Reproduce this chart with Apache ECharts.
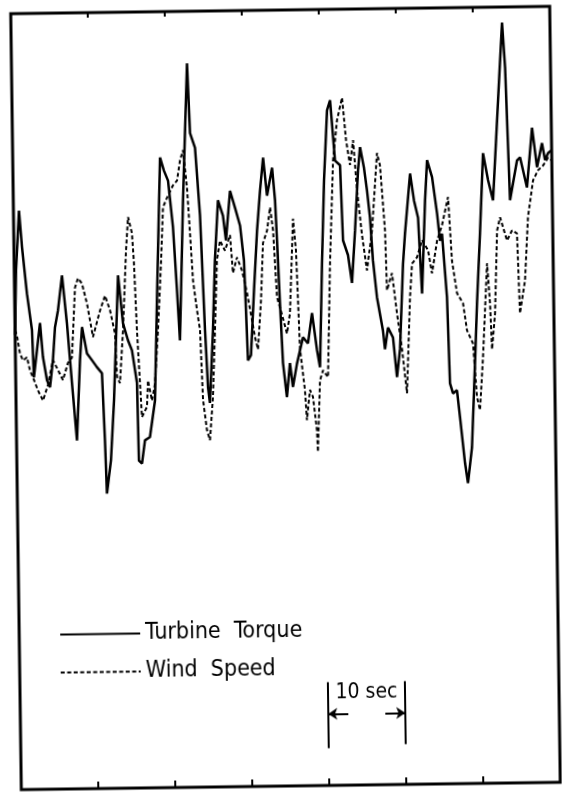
<!DOCTYPE html>
<html><head><meta charset="utf-8">
<script src="https://cdn.jsdelivr.net/npm/echarts@6/dist/echarts.min.js"></script>
<style>
html,body{margin:0;padding:0;background:#fff;overflow:hidden;width:562px;height:793px}
#c{position:absolute;left:0;top:0;width:562px;height:793px;transform:rotate(-0.78deg);transform-origin:285px 398px;}
</style></head><body><div id="c"></div>
<script>
// time in seconds (frame spans 0..70 s, ticks every 10 s); amplitude in relative units (frame 0..100)
const torqueTime = [0, 0.23, 0.72, 1.05, 1.61, 2.20, 2.37, 2.81, 3.25, 3.58,
  4.06, 4.44, 4.87, 5.19, 5.61, 6.19, 6.75, 7.30, 7.85, 8.38,
  8.70, 9.30, 9.94, 10.57, 11.21, 11.48, 11.65, 12.23, 12.73, 13.47,
  14.03, 14.65, 15.15, 15.74, 15.86, 16.25, 16.68, 17.33, 18.05, 18.48,
  19.13, 19.62, 20.13, 20.69, 21.10, 21.40, 22.04, 22.80, 23.07, 23.69,
  24.22, 24.67, 24.96, 25.18, 25.70, 26.08, 26.58, 27.20, 27.55, 28.16,
  28.78, 29.40, 29.85, 30.20, 30.60, 31.10, 31.60, 32.06, 32.51, 32.96,
  33.66, 33.99, 34.18, 34.45, 34.74, 35.19, 35.64, 35.99, 36.55, 37.38,
  38.02, 38.59, 39.18, 39.54, 39.98, 40.39, 40.90, 41.31, 41.85, 42.49,
  42.75, 43.37, 43.84, 44.33, 44.82, 45.12, 45.60, 45.95, 46.29, 46.60,
  47.06, 47.78, 48.01, 48.44, 49.07, 49.52, 49.96, 50.50, 50.81, 51.57,
  52.04, 52.53, 52.92, 53.47, 53.80, 54.42, 55.01, 55.34, 55.61, 56.15,
  56.39, 56.76, 57.28, 57.63, 58.20, 58.55, 59.13, 59.67, 60.04, 60.55,
  61.08, 61.69, 62.30, 63.13, 63.78, 64.10, 64.51, 65.48, 65.88, 66.73,
  67.49, 68.07, 68.76, 69.12, 69.52, 69.92];
const torqueValue = [58.6, 66.9, 74.6, 69.9, 63.9, 59.2, 53.1, 56.6, 60.1, 55.7,
  52.7, 51.8, 55.3, 59.5, 61.7, 66.2, 60.0, 52.3, 44.9, 55.2,
  59.5, 56.1, 55.2, 54.3, 53.5, 44.9, 38.0, 42.3, 50.0, 66.1,
  59.9, 57.7, 56.4, 52.2, 42.2, 41.8, 44.8, 45.2, 49.9, 62.8,
  81.2, 79.5, 78.2, 72.2, 64.1, 57.6, 75.6, 93.3, 84.3, 82.4,
  73.7, 58.9, 51.5, 49.5, 58.8, 67.9, 75.6, 73.6, 70.4, 76.8,
  74.6, 72.3, 67.8, 54.9, 55.6, 63.9, 71.6, 76.8, 81.0, 76.1,
  79.7, 75.5, 70.3, 62.2, 54.5, 50.1, 54.5, 51.4, 54.4, 57.8,
  57.0, 60.9, 56.1, 53.9, 67.3, 78.0, 87.0, 88.3, 80.5, 79.9,
  70.2, 68.3, 64.7, 71.5, 79.2, 82.2, 79.5, 76.6, 73.1, 67.6,
  62.8, 58.5, 56.1, 58.9, 57.6, 52.5, 56.1, 67.1, 71.0, 78.7,
  75.2, 73.0, 63.2, 75.2, 80.4, 78.2, 73.5, 70.0, 70.9, 62.7,
  51.6, 50.3, 50.7, 47.2, 41.3, 38.7, 43.3, 54.1, 61.9, 70.9,
  81.2, 77.7, 75.1, 88.0, 98.0, 92.2, 75.1, 80.2, 80.6, 76.7,
  84.4, 79.3, 82.4, 80.2, 81.1, 81.4];
const windTime = [0, 0.24, 0.60, 0.98, 1.50, 1.87, 2.25, 2.87, 3.51, 4.18,
  4.87, 5.50, 6.13, 6.81, 7.34, 7.86, 8.26, 8.77, 9.39, 10.11,
  11.07, 11.74, 12.37, 12.97, 13.16, 13.53, 14.02, 14.55, 14.87, 15.35,
  15.56, 15.83, 16.13, 16.33, 17.00, 17.17, 17.66, 18.08, 18.56, 19.07,
  19.43, 20.10, 20.77, 21.30, 21.72, 22.13, 22.58, 22.89, 23.20, 23.66,
  24.02, 24.29, 24.75, 25.12, 25.58, 25.96, 26.34, 26.77, 27.40, 28.08,
  28.40, 28.95, 29.58, 30.19, 30.79, 31.15, 31.52, 31.99, 32.35, 32.90,
  33.33, 33.68, 34.08, 34.70, 35.31, 35.73, 36.29, 36.62, 36.97, 37.54,
  37.75, 38.19, 38.57, 39.03, 39.12, 39.51, 39.92, 40.56, 41.02, 41.59,
  42.18, 42.87, 43.32, 43.79, 44.23, 44.66, 45.23, 45.81, 46.53, 47.31,
  47.68, 48.22, 48.37, 49.05, 49.63, 50.22, 50.79, 51.35, 51.67, 52.33,
  53.01, 53.77, 54.25, 54.96, 55.63, 56.46, 56.86, 57.46, 58.22, 58.69,
  59.45, 59.87, 60.24, 60.72, 61.41, 61.73, 61.91, 62.36, 62.77, 63.18,
  64.05, 64.71, 65.35, 65.60, 66.31, 66.81, 67.53, 68.19, 68.85, 69.52, 69.90];
const windValue = [59.2, 58.5, 56.2, 55.3, 55.7, 54.0, 53.1, 51.4, 50.1, 52.1,
  55.3, 54.0, 52.7, 54.9, 55.6, 64.6, 65.8, 65.1, 62.5, 58.2,
  61.6, 63.5, 61.6, 58.6, 53.0, 52.2, 59.0, 69.3, 73.6, 71.5,
  67.6, 59.0, 52.2, 47.8, 49.1, 52.5, 49.9, 52.1, 58.9, 67.6,
  74.8, 76.3, 77.6, 78.2, 80.8, 82.1, 77.3, 71.4, 65.3, 61.5,
  58.9, 49.9, 46.0, 44.7, 50.2, 58.8, 67.9, 70.4, 69.1, 71.1,
  66.2, 68.2, 66.5, 63.6, 60.1, 57.9, 56.3, 62.6, 70.0, 71.6,
  74.6, 71.6, 63.0, 60.7, 58.3, 60.9, 73.1, 69.0, 56.3, 51.0,
  47.1, 51.0, 50.1, 45.8, 43.0, 52.2, 53.5, 52.6, 67.3, 80.5,
  85.7, 88.6, 83.1, 79.9, 83.1, 76.6, 70.8, 66.3, 71.4, 81.4,
  79.8, 71.4, 63.7, 65.9, 60.7, 56.1, 50.4, 62.8, 67.1, 67.9,
  70.1, 68.8, 65.8, 70.0, 72.0, 75.6, 67.4, 63.2, 61.9, 58.4,
  56.7, 49.8, 48.1, 54.9, 67.0, 61.8, 55.9, 60.5, 71.2, 72.9,
  69.9, 71.2, 70.8, 60.5, 64.7, 72.9, 77.6, 78.9, 79.5, 80.5, 80.2];
const seriesNames = ['Turbine Torque', 'Wind Speed'];
const xTicks = [0, 70, 10];          // min, max, interval (s)
const scaleBarTimes = [40, 50];      // "10 sec" marker ends
const scaleBarLevels = [4.8, 13.3];  // vertical extent of marker bars
const scaleArrowLevel = 9.2;
const scaleArrowLen = 2.6;
const scaleLabel = '10 sec';
const scaleLabelLevel = 11.9;

const FONT = "'DejaVu Sans Condensed', 'Liberation Sans Narrow', 'DejaVu Sans', sans-serif";
const zip = (a, b) => a.map((v, i) => [v, b[i]]);

const chart = echarts.init(document.getElementById('c'), null, {renderer: 'canvas'});
const axisBase = {
  type: 'value', min: xTicks[0], max: xTicks[1], interval: xTicks[2],
  axisLabel: {show: false}, splitLine: {show: false},
  axisLine: {show: false}
};
chart.setOption({
  animation: false,
  backgroundColor: '#fff',
  grid: {left: 16, top: 10, right: 7, bottom: 7, show: true, borderColor: '#000', borderWidth: 3, backgroundColor: 'transparent'},
  xAxis: [
    Object.assign({}, axisBase, {position: 'bottom', axisTick: {show: true, inside: true, length: 7, lineStyle: {color: '#000', width: 2}}}),
    Object.assign({}, axisBase, {position: 'top', axisTick: {show: true, inside: true, length: 5, lineStyle: {color: '#000', width: 2}}})
  ],
  yAxis: {type: 'value', min: 0, max: 100, show: false},
  legend: {
    data: seriesNames, orient: 'vertical', left: 56, top: 619, padding: 0,
    itemWidth: 80, itemHeight: 12, itemGap: 13,
    formatter: n => n.replace(' ', '  '),
    itemStyle: {color: 'rgba(0,0,0,0)', borderWidth: 0, opacity: 0},
    lineStyle: {width: 2},
    textStyle: {fontFamily: FONT, fontSize: 23, color: '#000', lineHeight: 25},
    inactiveColor: '#000'
  },
  series: [
    {name: seriesNames[0], type: 'line', data: zip(torqueTime, torqueValue), symbol: 'none',
      lineStyle: {color: '#000', width: 2.5}, itemStyle: {color: '#000'}, z: 3},
    {name: seriesNames[1], type: 'line', data: zip(windTime, windValue), symbol: 'none',
      lineStyle: {color: '#000', width: 2, type: [4, 2.5]}, itemStyle: {color: '#000'}, z: 2},
    {name: 'scale', type: 'line', data: [], symbol: 'none',
      markLine: {
        silent: true, animation: false, symbol: ['none', 'none'], symbolSize: 9,
        lineStyle: {color: '#000', width: 2, type: 'solid'}, label: {show: false},
        data: [
          [{coord: [scaleBarTimes[0], scaleBarLevels[0]]}, {coord: [scaleBarTimes[0], scaleBarLevels[1]]}],
          [{coord: [scaleBarTimes[1], scaleBarLevels[0] + 0.4]}, {coord: [scaleBarTimes[1], scaleBarLevels[1]]}],
          [{coord: [scaleBarTimes[0] + scaleArrowLen, scaleArrowLevel], symbol: 'none'}, {coord: [scaleBarTimes[0], scaleArrowLevel], symbol: 'arrow'}],
          [{coord: [scaleBarTimes[1] - scaleArrowLen, scaleArrowLevel], symbol: 'none'}, {coord: [scaleBarTimes[1], scaleArrowLevel], symbol: 'arrow'}]
        ]
      },
      markPoint: {
        silent: true, symbol: 'circle', symbolSize: 0,
        label: {show: true, position: 'inside', formatter: scaleLabel, fontFamily: FONT, fontSize: 21, color: '#000'},
        data: [{coord: [(scaleBarTimes[0] + scaleBarTimes[1]) / 2, scaleLabelLevel]}]
      }
    }
  ]
});
</script></body></html>
